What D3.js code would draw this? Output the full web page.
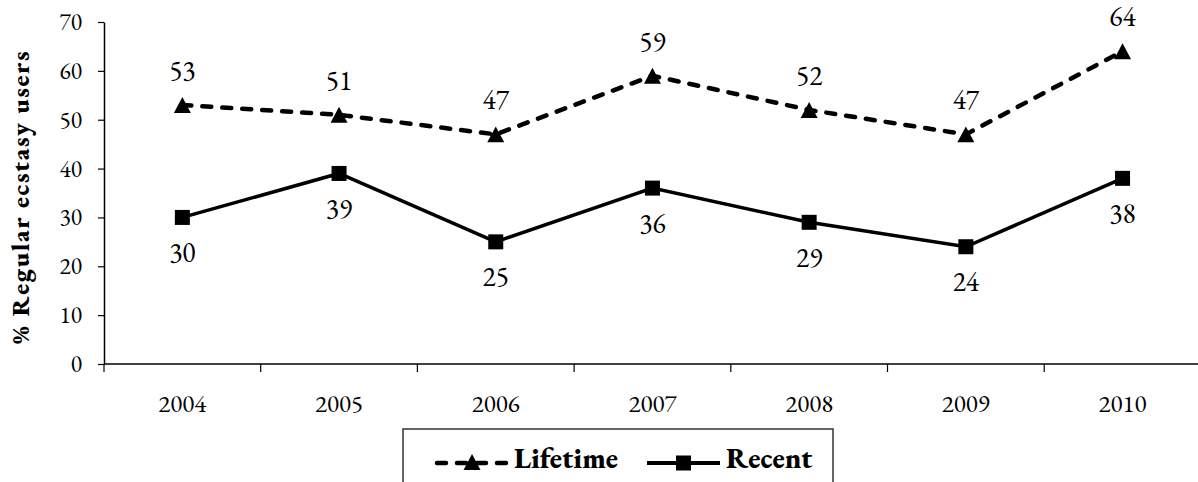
<!DOCTYPE html>
<html>
<head>
<meta charset="utf-8">
<script src="https://cdn.jsdelivr.net/npm/d3@7"></script>
<style>
  html, body { margin: 0; padding: 0; background: #fff; }
  svg { display: block; }
  text { font-family: "EB Garamond", Garamond, "Liberation Serif", serif; fill: #000; }
</style>
</head>
<body>
<svg id="chart" width="1198" height="482"></svg>
<script>
// Survey years and the share of regular ecstasy users per measure
const years = ["2004", "2005", "2006", "2007", "2008", "2009", "2010"];
const lifetime = [53, 51, 47, 59, 52, 47, 64];
const recent = [30, 39, 25, 36, 29, 24, 38];
const yTicks = [0, 10, 20, 30, 40, 50, 60, 70];
const yTitle = "% Regular ecstasy users";
const legendNames = ["Lifetime", "Recent"];

const FONT = "'EB Garamond', Garamond, 'Liberation Serif', serif";
const svg = d3.select("#chart");

const plotLeft = 104, plotTop = 22, plotBottom = 364, bandW = 156.7;

const x = d3.scaleBand()
  .domain(years)
  .range([plotLeft, plotLeft + bandW * years.length])
  .padding(0);

const y = d3.scaleLinear()
  .domain([0, 70])
  .range([plotBottom, plotTop]);

const cx = d => x(d) + x.bandwidth() / 2;

// Filled triangle marker, centred on its bounding box
const triangle = {
  draw(ctx, size) {
    const w = Math.sqrt(size), h = w * 0.94;
    ctx.moveTo(0, -h / 2);
    ctx.lineTo(w / 2, h / 2);
    ctx.lineTo(-w / 2, h / 2);
    ctx.closePath();
  }
};
const tri = d3.symbol().type(triangle).size(17 * 17);

// Y axis
const yAxis = svg.append("g")
  .attr("transform", `translate(${plotLeft},0)`)
  .call(d3.axisLeft(y).tickValues(yTicks).tickSize(6).tickPadding(16).tickSizeOuter(0));
yAxis.select(".domain").attr("stroke", "#000").attr("stroke-width", 1.5);
yAxis.selectAll(".tick line").attr("stroke", "#000").attr("stroke-width", 1.2);
yAxis.selectAll(".tick text")
  .style("font-family", FONT)
  .style("font-size", "23.5px")
  .attr("fill", "#222");

// X axis line with tick marks at category boundaries
svg.append("line")
  .attr("x1", plotLeft).attr("x2", 1198)
  .attr("y1", plotBottom).attr("y2", plotBottom)
  .attr("stroke", "#000").attr("stroke-width", 1.5);

svg.append("g").selectAll("line")
  .data(years)
  .join("line")
  .attr("x1", d => x(d)).attr("x2", d => x(d))
  .attr("y1", plotBottom).attr("y2", plotBottom + 8)
  .attr("stroke", "#000").attr("stroke-width", 1.2);

svg.append("g").selectAll("text")
  .data(years)
  .join("text")
  .attr("x", d => cx(d))
  .attr("y", plotBottom + 47.5)
  .attr("text-anchor", "middle")
  .style("font-size", "25px")
  .attr("fill", "#222")
  .text(d => d);

// Y axis title
svg.append("text")
  .attr("transform", `translate(29,${(plotTop + plotBottom) / 2 + 5}) rotate(-90)`)
  .attr("text-anchor", "middle")
  .attr("textLength", 293)
  .attr("lengthAdjust", "spacing")
  .style("font-size", "26px")
  .style("font-weight", "800")
  .text(yTitle);

// Lines
const line = d3.line().x((d, i) => cx(years[i])).y(d => y(d));

svg.append("path")
  .datum(lifetime)
  .attr("d", line)
  .attr("fill", "none")
  .attr("stroke", "#000")
  .attr("stroke-width", 4.5)
  .attr("stroke-dasharray", "9,11")
  .attr("stroke-linecap", "round");

svg.append("path")
  .datum(recent)
  .attr("d", line)
  .attr("fill", "none")
  .attr("stroke", "#000")
  .attr("stroke-width", 3.5);

// Markers
svg.append("g").selectAll("path")
  .data(lifetime)
  .join("path")
  .attr("transform", (d, i) => `translate(${cx(years[i])},${y(d)})`)
  .attr("d", tri)
  .attr("fill", "#000");

svg.append("g").selectAll("rect")
  .data(recent)
  .join("rect")
  .attr("x", (d, i) => cx(years[i]) - 7.5)
  .attr("y", d => y(d) - 7.5)
  .attr("width", 15).attr("height", 15)
  .attr("fill", "#000");

// Value labels
svg.append("g").selectAll("text")
  .data(lifetime)
  .join("text")
  .attr("x", (d, i) => cx(years[i]))
  .attr("y", d => y(d) - 25)
  .attr("text-anchor", "middle")
  .style("font-size", "27.5px")
  .attr("fill", "#222")
  .text(d => d);

svg.append("g").selectAll("text")
  .data(recent)
  .join("text")
  .attr("x", (d, i) => cx(years[i]))
  .attr("y", d => y(d) + 44.5)
  .attr("text-anchor", "middle")
  .style("font-size", "27.5px")
  .attr("fill", "#222")
  .text(d => d);

// Legend
const lg = svg.append("g");
lg.append("rect")
  .attr("x", 403).attr("y", 429)
  .attr("width", 430).attr("height", 80)
  .attr("fill", "#fff")
  .attr("stroke", "#333").attr("stroke-width", 1.5);

const ly = 463;
lg.append("line")
  .attr("x1", 437).attr("x2", 508).attr("y1", ly).attr("y2", ly)
  .attr("stroke", "#000").attr("stroke-width", 4.5)
  .attr("stroke-dasharray", "9,11").attr("stroke-linecap", "round");
lg.append("path")
  .attr("transform", `translate(472,${ly - 1})`)
  .attr("d", tri)
  .attr("fill", "#000");
lg.append("text")
  .attr("x", 514).attr("y", ly + 5)
  .style("font-size", "29px").style("font-weight", "800")
  .text(legendNames[0]);

lg.append("line")
  .attr("x1", 647).attr("x2", 720).attr("y1", ly).attr("y2", ly)
  .attr("stroke", "#000").attr("stroke-width", 4);
lg.append("rect")
  .attr("x", 676).attr("y", ly - 7.5)
  .attr("width", 15).attr("height", 15)
  .attr("fill", "#000");
lg.append("text")
  .attr("x", 726).attr("y", ly + 5)
  .style("font-size", "29px").style("font-weight", "800")
  .text(legendNames[1]);
</script>
</body>
</html>
